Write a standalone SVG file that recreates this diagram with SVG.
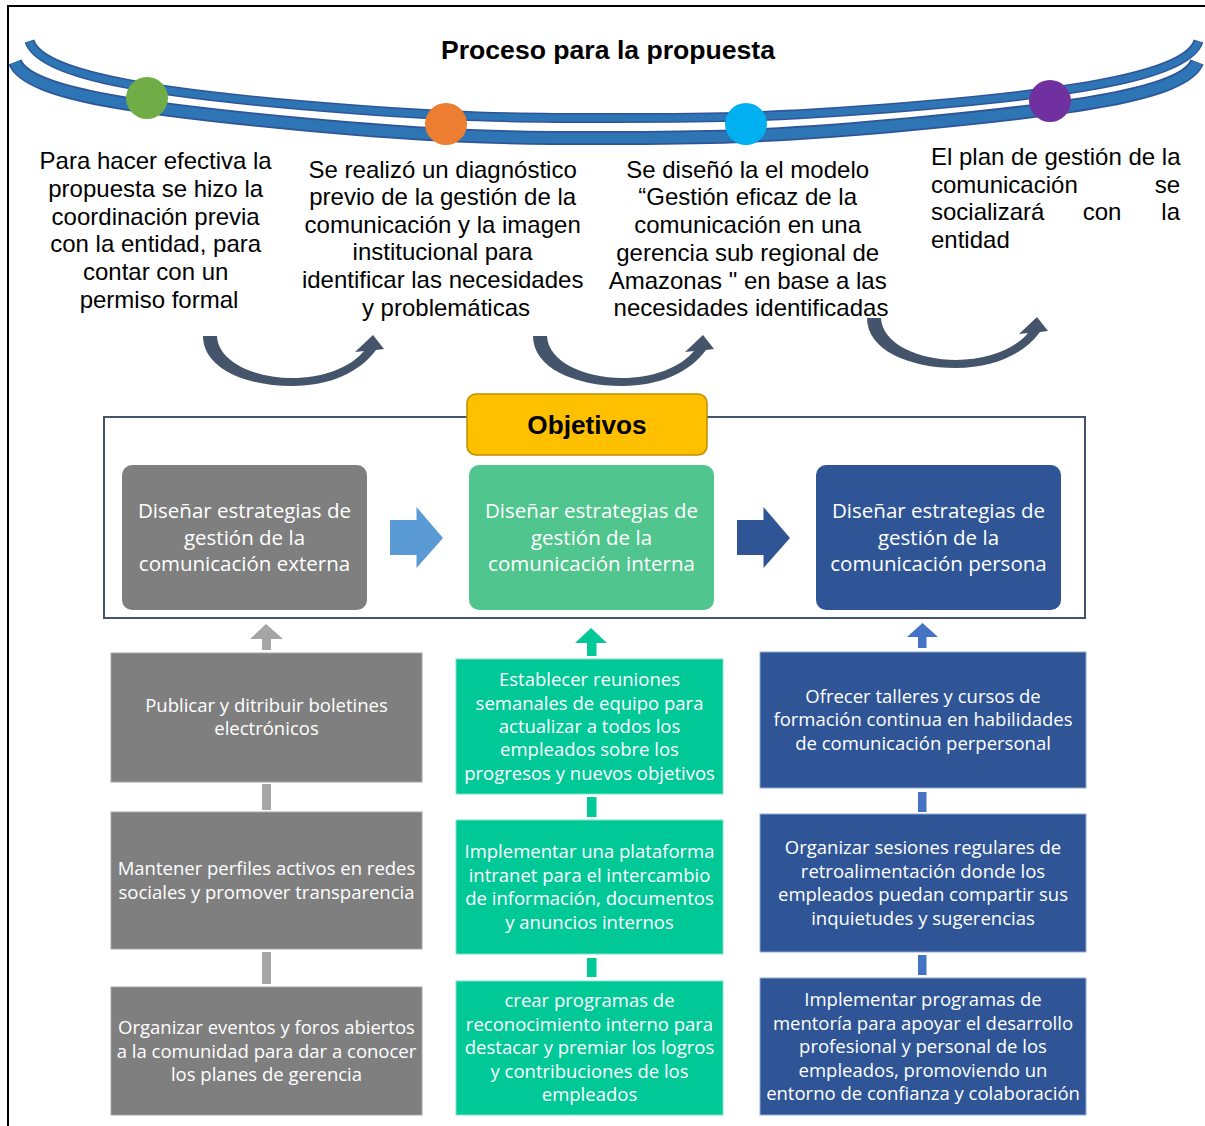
<svg xmlns="http://www.w3.org/2000/svg" width="1205" height="1126" viewBox="0 0 1205 1126">
<style>
.top{font-family:"Liberation Sans",Arial,sans-serif;font-size:24px;fill:#000}
.ttl{font-family:"Liberation Sans",Arial,sans-serif;font-size:26.6px;font-weight:bold;fill:#000}
.obj{font-family:"Open Sans","Noto Sans",sans-serif;font-size:20.5px;fill:#fff}
.bx{font-family:"Open Sans","Noto Sans",sans-serif;font-size:18.5px;fill:#fff}
.band-o{fill:none;stroke:#2F5597}
.band-i{fill:none;stroke:#2E75B6}
.carrow{fill:#44546A}
</style>
<rect width="1205" height="1126" fill="#fff"/>
<path d="M8,1126 V6 H1205" fill="none" stroke="#000" stroke-width="2"/>

<g id="timeline">
<path class="band-o" stroke-width="10" d="M29.5,41 C40,75 150,92 300,105 C450,118 520,118 614,118 C708,118 778,118 928,105 C1078,92 1188,75 1198.5,41"/>
<path class="band-i" stroke-width="7" d="M29.5,41.5 C40,75 150,92 300,105 C450,118 520,118 614,118 C708,118 778,118 928,105 C1078,92 1188,75 1198.5,41.5"/>
<path class="band-o" stroke-width="14" d="M15,62 C28,95 150,110 300,124 C450,138 520,138 606,138 C692,138 762,138 912,124 C1062,110 1184,95 1197,62"/>
<path class="band-i" stroke-width="10.5" d="M15,62.5 C28,95 150,110 300,124 C450,138 520,138 606,138 C692,138 762,138 912,124 C1062,110 1184,95 1197,62.5"/>
<text class="ttl" x="608" y="59" text-anchor="middle">Proceso para la propuesta</text>
<circle cx="147" cy="98" r="21" fill="#70AD47"/>
<circle cx="446" cy="124" r="21" fill="#ED7D31"/>
<circle cx="746" cy="124" r="21" fill="#00B0F0"/>
<circle cx="1050" cy="101" r="21" fill="#7030A0"/>
</g>

<g id="step1">
<text class="top" text-anchor="middle">
<tspan x="159" y="169">Para hacer efectiva la</tspan>
<tspan x="159" y="197">propuesta se hizo la</tspan>
<tspan x="159" y="225">coordinación previa</tspan>
<tspan x="159" y="252">con la entidad, para</tspan>
<tspan x="159" y="280">contar con un</tspan>
<tspan x="159" y="308">permiso formal</tspan>
</text>
</g>
<g id="step2">
<text class="top" text-anchor="middle">
<tspan x="446" y="178">Se realizó un diagnóstico</tspan>
<tspan x="446" y="205">previo de la gestión de la</tspan>
<tspan x="446" y="233">comunicación y la imagen</tspan>
<tspan x="446" y="260">institucional para</tspan>
<tspan x="446" y="288">identificar las necesidades</tspan>
<tspan x="446" y="316">y problemáticas</tspan>
</text>
</g>
<g id="step3">
<text class="top" text-anchor="middle">
<tspan x="751" y="178">Se diseñó la el modelo</tspan>
<tspan x="751" y="205">“Gestión eficaz de la</tspan>
<tspan x="751" y="233">comunicación en una</tspan>
<tspan x="751" y="261">gerencia sub regional de</tspan>
<tspan x="751" y="289">Amazonas " en base a las</tspan>
<tspan x="751" y="316">necesidades identificadas</tspan>
</text>
</g>
<g id="step4">
<text class="top" x="931" y="165">El plan de gestión de la</text>
<text class="top" x="931" y="193">comunicación</text>
<text class="top" x="1180" y="193" text-anchor="end">se</text>
<text class="top" x="931" y="220">socializará</text>
<text class="top" x="1102" y="220" text-anchor="middle">con</text>
<text class="top" x="1180" y="220" text-anchor="end">la</text>
<text class="top" x="931" y="248">entidad</text>
</g>

<g id="curved-arrows">
<path id="ca" class="carrow" d="M203,336 L217,336 C218,362 255,378 292,378 C322,378 350,368 364,351 L355,352 L373,335 L384,349 L376,350 C360,372 330,386 292,386 C245,386 203,368 203,336 Z"/>
<use href="#ca" transform="translate(330,0)"/>
<use href="#ca" transform="translate(664,-18)"/>
</g>

<g id="objetivos">
<rect x="104" y="417" width="981" height="201" fill="none" stroke="#44546A" stroke-width="2"/>
<rect x="467" y="394" width="240" height="61" rx="9" fill="#FFC000" stroke="#BF9000" stroke-width="1.5"/>
<text x="587" y="433.5" text-anchor="middle" font-family="Liberation Sans,Arial,sans-serif" font-size="26.2" font-weight="bold">Objetivos</text>
</g>

<g id="obj-externa">
<rect x="122" y="465" width="245" height="145" rx="10" fill="#7F7F7F"/>
<text class="obj" text-anchor="middle"><tspan x="244.5" y="518">Diseñar estrategias de</tspan><tspan x="244.5" y="544.5">gestión de la</tspan><tspan x="244.5" y="571">comunicación externa</tspan></text>
</g>
<g id="obj-interna">
<rect x="469" y="465" width="245" height="145" rx="10" fill="#50C58E"/>
<text class="obj" text-anchor="middle"><tspan x="591.5" y="518">Diseñar estrategias de</tspan><tspan x="591.5" y="544.5">gestión de la</tspan><tspan x="591.5" y="571">comunicación interna</tspan></text>
</g>
<g id="obj-persona">
<rect x="816" y="465" width="245" height="145" rx="10" fill="#2F5597"/>
<text class="obj" text-anchor="middle"><tspan x="938.5" y="518">Diseñar estrategias de</tspan><tspan x="938.5" y="544.5">gestión de la</tspan><tspan x="938.5" y="571">comunicación persona</tspan></text>
</g>

<g id="connectors">
<path d="M390,520 H416.5 V507 L443,538 L416.5,568 V555 H390 Z" fill="#5B9BD5"/>
<path d="M737,520 H763.5 V507 L790,538 L763.5,568 V555 H737 Z" fill="#2F5597"/>
<path d="M262,650 V639 H250 L266,624 L283,639 H271 V650 Z" fill="#A5A5A5"/>
<rect x="262" y="784" width="9" height="26" fill="#A5A5A5"/>
<rect x="262" y="952" width="9" height="32" fill="#A5A5A5"/>
<path d="M587,656 V643 H575 L591,628 L607,643 H596.5 V656 Z" fill="#00C897"/>
<rect x="587" y="797" width="9.5" height="20" fill="#00C897"/>
<rect x="587" y="958" width="9.5" height="19" fill="#00C897"/>
<path d="M918,648 V637 H907 L922.5,623 L938,637 H926.5 V648 Z" fill="#4472C4"/>
<rect x="918" y="792" width="8.5" height="20" fill="#4472C4"/>
<rect x="918" y="955" width="8.5" height="20" fill="#4472C4"/>
</g>

<g id="ext-1">
<rect x="111" y="653" width="311" height="129" fill="#7F7F7F" stroke="#A5A5A5" stroke-width="1"/>
<text class="bx" text-anchor="middle"><tspan x="266.5" y="711.5">Publicar y ditribuir boletines</tspan><tspan x="266.5" y="735">electrónicos</tspan></text>
</g>
<g id="ext-2">
<rect x="111" y="812" width="311" height="137" fill="#7F7F7F" stroke="#A5A5A5" stroke-width="1"/>
<text class="bx" text-anchor="middle"><tspan x="266.5" y="874.5">Mantener perfiles activos en redes</tspan><tspan x="266.5" y="898.5">sociales y promover transparencia</tspan></text>
</g>
<g id="ext-3">
<rect x="111" y="987" width="311" height="128" fill="#7F7F7F" stroke="#A5A5A5" stroke-width="1"/>
<text class="bx" text-anchor="middle"><tspan x="266.5" y="1033.5">Organizar eventos y foros abiertos</tspan><tspan x="266.5" y="1057.5">a la comunidad para dar a conocer</tspan><tspan x="266.5" y="1080.5">los planes de gerencia</tspan></text>
</g>

<g id="int-1">
<rect x="456" y="659" width="267" height="135" fill="#00C897" stroke="#7FE3C9" stroke-width="1"/>
<text class="bx" text-anchor="middle"><tspan x="589.5" y="685.5">Establecer reuniones</tspan><tspan x="589.5" y="709.5">semanales de equipo para</tspan><tspan x="589.5" y="732.5">actualizar a todos los</tspan><tspan x="589.5" y="755.5">empleados sobre los</tspan><tspan x="589.5" y="779.5">progresos y nuevos objetivos</tspan></text>
</g>
<g id="int-2">
<rect x="456" y="820" width="267" height="134" fill="#00C897" stroke="#7FE3C9" stroke-width="1"/>
<text class="bx" text-anchor="middle"><tspan x="589.5" y="857.5">Implementar una plataforma</tspan><tspan x="589.5" y="881.5">intranet para el intercambio</tspan><tspan x="589.5" y="904.5">de información, documentos</tspan><tspan x="589.5" y="928.5">y anuncios internos</tspan></text>
</g>
<g id="int-3">
<rect x="456" y="981" width="267" height="134" fill="#00C897" stroke="#7FE3C9" stroke-width="1"/>
<text class="bx" text-anchor="middle"><tspan x="589.5" y="1006.5">crear programas de</tspan><tspan x="589.5" y="1030.5">reconocimiento interno para</tspan><tspan x="589.5" y="1053.5">destacar y premiar los logros</tspan><tspan x="589.5" y="1077.5">y contribuciones de los</tspan><tspan x="589.5" y="1100.5">empleados</tspan></text>
</g>

<g id="per-1">
<rect x="760" y="652" width="326" height="136" fill="#2F5597" stroke="#8FAADC" stroke-width="1"/>
<text class="bx" text-anchor="middle"><tspan x="923" y="702.5">Ofrecer talleres y cursos de</tspan><tspan x="923" y="725.5">formación continua en habilidades</tspan><tspan x="923" y="749.5">de comunicación perpersonal</tspan></text>
</g>
<g id="per-2">
<rect x="760" y="814" width="326" height="138" fill="#2F5597" stroke="#8FAADC" stroke-width="1"/>
<text class="bx" text-anchor="middle"><tspan x="923" y="853.5">Organizar sesiones regulares de</tspan><tspan x="923" y="877.5">retroalimentación donde los</tspan><tspan x="923" y="900.5">empleados puedan compartir sus</tspan><tspan x="923" y="924.5">inquietudes y sugerencias</tspan></text>
</g>
<g id="per-3">
<rect x="760" y="978" width="326" height="137" fill="#2F5597" stroke="#8FAADC" stroke-width="1"/>
<text class="bx" text-anchor="middle"><tspan x="923" y="1005.5">Implementar programas de</tspan><tspan x="923" y="1029.5">mentoría para apoyar el desarrollo</tspan><tspan x="923" y="1052.5">profesional y personal de los</tspan><tspan x="923" y="1076.5">empleados, promoviendo un</tspan><tspan x="923" y="1099.5">entorno de confianza y colaboración</tspan></text>
</g>
</svg>
